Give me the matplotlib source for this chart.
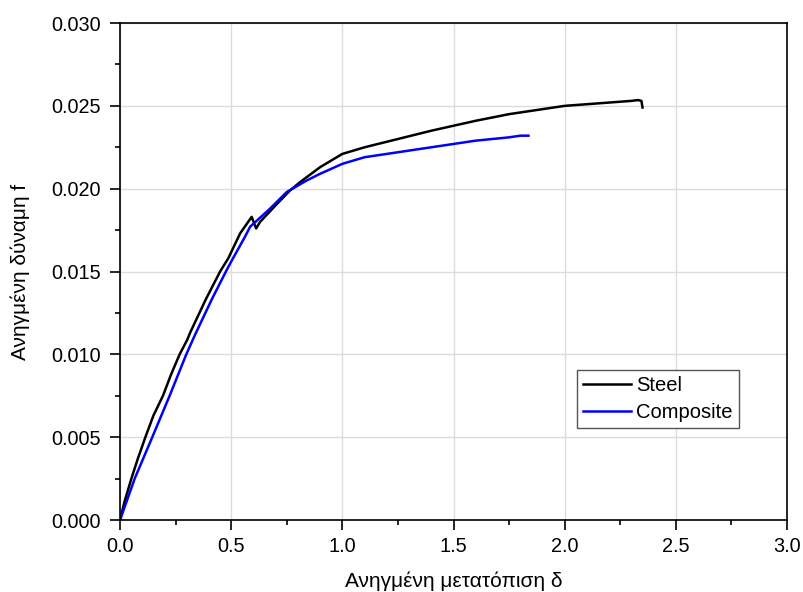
import matplotlib
matplotlib.use("Agg")
import matplotlib.pyplot as plt
from matplotlib.ticker import MultipleLocator, FormatStrFormatter

plt.rcParams['font.family'] = ['Liberation Sans', 'DejaVu Sans']

steel_x = [0.0, 0.02, 0.051, 0.08, 0.114, 0.15, 0.193, 0.23, 0.268, 0.303, 0.315, 0.35,
           0.385, 0.45, 0.487, 0.54, 0.592, 0.612, 0.63, 0.70, 0.765, 0.81, 0.90, 1.0,
           1.1, 1.25, 1.4, 1.5, 1.6, 1.75, 1.8, 1.9, 2.0, 2.1, 2.2, 2.3, 2.33, 2.345, 2.35]
steel_y = [0.0, 0.0011, 0.0025, 0.0037, 0.0050, 0.0063, 0.0075, 0.0088, 0.0100, 0.0109,
           0.0113, 0.0123, 0.0133, 0.0150, 0.0158, 0.0173, 0.0183, 0.0176, 0.0180, 0.0190,
           0.0199, 0.0204, 0.0213, 0.0221, 0.0225, 0.0230, 0.0235, 0.0238, 0.0241, 0.0245,
           0.0246, 0.0248, 0.0250, 0.0251, 0.0252, 0.0253, 0.02535, 0.0253, 0.0249]

comp_x = [0.0, 0.066, 0.145, 0.223, 0.298, 0.338, 0.412, 0.48, 0.50, 0.562, 0.585,
          0.675, 0.75, 0.84, 0.90, 1.0, 1.1, 1.25, 1.4, 1.5, 1.6, 1.75, 1.8, 1.837]
comp_y = [0.0, 0.0025, 0.0050, 0.0075, 0.0100, 0.0112, 0.0133, 0.0151, 0.0156, 0.0171,
          0.0177, 0.0188, 0.0198, 0.0205, 0.0209, 0.0215, 0.0219, 0.0222, 0.0225, 0.0227,
          0.0229, 0.0231, 0.0232, 0.0232]

series_names = ["Steel", "Composite"]
x_label = "Ανηγμένη μετατόπιση δ"
y_label = "Ανηγμένη δύναμη f"

fig = plt.figure(figsize=(8.04, 5.92), dpi=100)
ax = fig.add_axes([0.1493, 0.1216, 0.8296, 0.8395])

ax.plot(steel_x, steel_y, color='black', lw=1.8, label=series_names[0])
ax.plot(comp_x, comp_y, color='#0000ff', lw=1.8, label=series_names[1])

ax.set_xlim(0, 3.0)
ax.set_ylim(0, 0.030)
ax.xaxis.set_major_locator(MultipleLocator(0.5))
ax.xaxis.set_minor_locator(MultipleLocator(0.25))
ax.yaxis.set_major_locator(MultipleLocator(0.005))
ax.yaxis.set_minor_locator(MultipleLocator(0.0025))
ax.xaxis.set_major_formatter(FormatStrFormatter('%.1f'))
ax.yaxis.set_major_formatter(FormatStrFormatter('%.3f'))
ax.grid(True, which='major', color='#dcdcdc', lw=1.0)
ax.set_axisbelow(True)
ax.tick_params(which='major', direction='out', length=7, width=1.2, labelsize=14.3,
               top=False, right=False)
ax.tick_params(axis='y', which='major', pad=7)
ax.tick_params(axis='x', which='major', pad=5.5)
ax.tick_params(which='minor', direction='out', length=3.6, width=1.2, top=False, right=False)
for s in ax.spines.values():
    s.set_linewidth(1.2)

ax.set_xlabel(x_label, fontsize=15, labelpad=11)
ax.set_ylabel(y_label, fontsize=15, labelpad=15)

leg = ax.legend(loc='lower left', bbox_to_anchor=(0.685, 0.185), fontsize=14.5,
                fancybox=False, framealpha=1, edgecolor='#555555', borderpad=0.3,
                handlelength=2.4, handletextpad=0.25, labelspacing=0.4, borderaxespad=0)
leg.get_frame().set_linewidth(1.0)

fig.savefig("out.png", dpi=100)
